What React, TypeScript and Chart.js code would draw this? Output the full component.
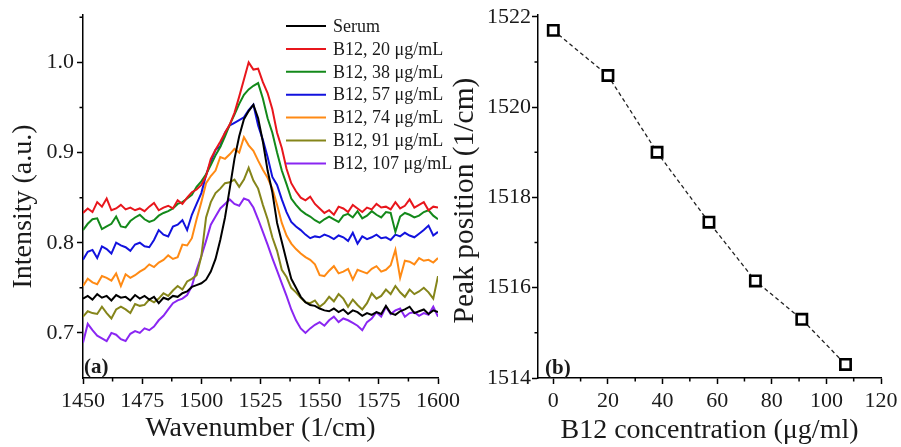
import React, { useEffect, useRef } from "react";
import { Chart, registerables } from "chart.js";

Chart.register(...registerables);

// ---------- Panel (a): spectra ----------
const wavenumbers = [
  1450, 1452, 1454, 1456, 1458, 1460, 1462, 1464, 1466, 1468,
  1470, 1472, 1474, 1476, 1478, 1480, 1482, 1484, 1486, 1488,
  1490, 1492, 1494, 1496, 1498, 1500, 1502, 1504, 1506, 1508,
  1510, 1512, 1514, 1516, 1518, 1520, 1522, 1524, 1526, 1528,
  1530, 1532, 1534, 1536, 1538, 1540, 1542, 1544, 1546, 1548,
  1550, 1552, 1554, 1556, 1558, 1560, 1562, 1564, 1566, 1568,
  1570, 1572, 1574, 1576, 1578, 1580, 1582, 1584, 1586, 1588,
  1590, 1592, 1594, 1596, 1598, 1600,
];

const serum = [
  0.738, 0.741, 0.737, 0.743, 0.739, 0.741, 0.736, 0.742, 0.739, 0.740,
  0.736, 0.742, 0.738, 0.741, 0.737, 0.740, 0.733, 0.739, 0.737, 0.741,
  0.740, 0.744, 0.746, 0.751, 0.753, 0.755, 0.759, 0.768, 0.782, 0.803,
  0.828, 0.860, 0.893, 0.918, 0.937, 0.946, 0.953, 0.938, 0.912, 0.880,
  0.856, 0.822, 0.801, 0.780, 0.760, 0.750, 0.740, 0.734, 0.731, 0.730,
  0.727, 0.725, 0.724, 0.727, 0.723, 0.726, 0.721, 0.725, 0.723, 0.719,
  0.722, 0.720, 0.723, 0.721, 0.730, 0.722, 0.720, 0.724, 0.726, 0.729,
  0.722, 0.724, 0.726, 0.721, 0.725, 0.723,
];

const b12_20 = [
  0.833, 0.838, 0.834, 0.845, 0.840, 0.849, 0.836, 0.838, 0.842, 0.837,
  0.839, 0.836, 0.838, 0.835, 0.840, 0.844, 0.836, 0.839, 0.841, 0.838,
  0.847, 0.843, 0.850, 0.856, 0.859, 0.864, 0.874, 0.893, 0.903, 0.912,
  0.922, 0.931, 0.944, 0.962, 0.981, 1.000, 0.992, 0.993, 0.978, 0.966,
  0.948, 0.922, 0.905, 0.882, 0.866, 0.857, 0.850, 0.847, 0.851, 0.843,
  0.838, 0.833, 0.836, 0.831, 0.840, 0.838, 0.834, 0.842, 0.838, 0.834,
  0.839, 0.837, 0.843, 0.839, 0.840, 0.837, 0.845, 0.838, 0.841, 0.848,
  0.839, 0.842, 0.845, 0.836, 0.840, 0.839,
];

const b12_38 = [
  0.814, 0.821, 0.826, 0.827, 0.815, 0.818, 0.821, 0.829, 0.818, 0.817,
  0.824, 0.828, 0.831, 0.826, 0.823, 0.825, 0.830, 0.833, 0.835, 0.838,
  0.843, 0.845, 0.849, 0.853, 0.862, 0.868, 0.876, 0.886, 0.897, 0.906,
  0.918, 0.931, 0.942, 0.954, 0.964, 0.970, 0.974, 0.977, 0.960, 0.938,
  0.922, 0.900, 0.880, 0.865, 0.849, 0.842, 0.836, 0.832, 0.829, 0.825,
  0.822, 0.826, 0.829, 0.826, 0.823, 0.830, 0.832, 0.828, 0.835, 0.827,
  0.830, 0.835, 0.831, 0.828, 0.834, 0.833, 0.812, 0.829, 0.833, 0.831,
  0.828, 0.830, 0.834, 0.836, 0.830, 0.826,
];

const b12_57 = [
  0.781, 0.790, 0.792, 0.783, 0.796, 0.793, 0.788, 0.800, 0.797, 0.795,
  0.791, 0.798, 0.800, 0.796, 0.795, 0.803, 0.814, 0.809, 0.807, 0.818,
  0.820, 0.825, 0.814, 0.831, 0.843, 0.855, 0.875, 0.890, 0.903, 0.907,
  0.922, 0.930, 0.933, 0.936, 0.939, 0.947, 0.953, 0.930, 0.914, 0.895,
  0.873, 0.864, 0.848, 0.834, 0.823, 0.818, 0.814, 0.809, 0.805, 0.807,
  0.806, 0.809, 0.807, 0.804, 0.808, 0.806, 0.802, 0.811, 0.799, 0.807,
  0.804, 0.806, 0.809, 0.805, 0.806, 0.803, 0.809, 0.807, 0.811, 0.808,
  0.806, 0.810, 0.814, 0.819, 0.808, 0.812,
];

const b12_74 = [
  0.752, 0.760, 0.756, 0.754, 0.763, 0.761, 0.758, 0.766, 0.752, 0.765,
  0.761, 0.764, 0.768, 0.771, 0.776, 0.773, 0.778, 0.781, 0.786, 0.782,
  0.784, 0.798, 0.797, 0.805, 0.826, 0.845, 0.866, 0.874, 0.880, 0.895,
  0.893, 0.898, 0.904, 0.900, 0.917, 0.908, 0.902, 0.891, 0.881, 0.872,
  0.860, 0.842, 0.822, 0.808, 0.799, 0.793, 0.788, 0.784, 0.781, 0.776,
  0.764, 0.763, 0.769, 0.774, 0.766, 0.768, 0.771, 0.759, 0.770, 0.768,
  0.766, 0.771, 0.774, 0.768, 0.770, 0.775, 0.792, 0.761, 0.780, 0.779,
  0.776, 0.783, 0.780, 0.781, 0.778, 0.783,
];

const b12_91 = [
  0.718, 0.724, 0.722, 0.721, 0.729, 0.722, 0.716, 0.726, 0.729, 0.726,
  0.722, 0.732, 0.730, 0.731, 0.737, 0.734, 0.738, 0.744, 0.741, 0.747,
  0.752, 0.748, 0.757, 0.760, 0.764, 0.785, 0.828, 0.845, 0.855, 0.860,
  0.866, 0.867, 0.870, 0.862, 0.870, 0.883, 0.869, 0.860, 0.842, 0.826,
  0.806, 0.791, 0.770, 0.762, 0.750, 0.745, 0.739, 0.734, 0.733, 0.736,
  0.729, 0.733, 0.740, 0.735, 0.743, 0.738, 0.729, 0.737, 0.731, 0.726,
  0.733, 0.744, 0.738, 0.741, 0.748, 0.743, 0.752, 0.745, 0.740, 0.748,
  0.743, 0.746, 0.750, 0.745, 0.738, 0.763,
];

const b12_107 = [
  0.689, 0.710, 0.703, 0.697, 0.694, 0.691, 0.700, 0.698, 0.693, 0.691,
  0.699, 0.702, 0.700, 0.705, 0.703, 0.707, 0.714, 0.719, 0.726, 0.733,
  0.736, 0.738, 0.742, 0.752, 0.770, 0.785, 0.802, 0.820, 0.829, 0.838,
  0.843, 0.848, 0.843, 0.841, 0.849, 0.847, 0.839, 0.826, 0.812, 0.798,
  0.783, 0.769, 0.755, 0.741, 0.726, 0.714, 0.705, 0.700, 0.705, 0.709,
  0.712, 0.708, 0.714, 0.718, 0.712, 0.716, 0.714, 0.711, 0.708, 0.703,
  0.712, 0.716, 0.723, 0.718, 0.729, 0.721, 0.725, 0.727, 0.718, 0.722,
  0.723, 0.719, 0.722, 0.720, 0.729, 0.718,
];

const seriesLabels = [
  "Serum",
  "B12, 20 μg/mL",
  "B12, 38 μg/mL",
  "B12, 57 μg/mL",
  "B12, 74 μg/mL",
  "B12, 91 μg/mL",
  "B12, 107 μg/mL",
];
const seriesValues = [serum, b12_20, b12_38, b12_57, b12_74, b12_91, b12_107];
const seriesColors = ["#000000", "#e8161c", "#13891a", "#1212de", "#ff8a14", "#85851a", "#8a26f2"];

const spectraXTicks = [1450, 1475, 1500, 1525, 1550, 1575, 1600];
const spectraXMinor = [1462.5, 1487.5, 1512.5, 1537.5, 1562.5, 1587.5];
const spectraYTicks = [0.7, 0.8, 0.9, 1.0];
const spectraYMinor = [0.75, 0.85, 0.95, 1.05];
const spectraXTitle = "Wavenumber (1/cm)";
const spectraYTitle = "Intensity (a.u.)";

// ---------- Panel (b): peak position ----------
const concentrations = [0, 20, 38, 57, 74, 91, 107];
const peakPositions = [1521.7, 1520.7, 1519.0, 1517.45, 1516.15, 1515.3, 1514.3];
const peakXTicks = [0, 20, 40, 60, 80, 100, 120];
const peakXMinor = [10, 30, 50, 70, 90, 110];
const peakYTicks = [1514, 1516, 1518, 1520, 1522];
const peakYMinor = [1515, 1517, 1519, 1521];
const peakXTitle = "B12 concentration (μg/ml)";
const peakYTitle = "Peak position (1/cm)";

const FONT = "'Liberation Serif', 'Times New Roman', serif";
const TEXT = "#1a1a1a";

function minorTicks(xVals: number[], yVals: number[], len: number) {
  return {
    id: "minorTicks",
    afterDraw(chart: any) {
      const { ctx, chartArea } = chart;
      const xs = chart.scales.x;
      const ys = chart.scales.y;
      ctx.save();
      ctx.strokeStyle = "#000";
      ctx.lineWidth = 1.5;
      ctx.beginPath();
      xVals.forEach((v) => {
        const px = xs.getPixelForValue(v);
        ctx.moveTo(px, chartArea.bottom);
        ctx.lineTo(px, chartArea.bottom + len);
      });
      yVals.forEach((v) => {
        const py = ys.getPixelForValue(v);
        ctx.moveTo(chartArea.left, py);
        ctx.lineTo(chartArea.left - len, py);
      });
      ctx.stroke();
      ctx.restore();
    },
  };
}

// vertical axis title, centred at a given x and shifted along the axis by dy
function yTitle(text: string, size: number, cx: number, dy: number) {
  return {
    id: "yTitle",
    afterDraw(chart: any) {
      const { ctx, chartArea } = chart;
      ctx.save();
      ctx.font = `${size}px ${FONT}`;
      ctx.fillStyle = TEXT;
      ctx.textAlign = "center";
      ctx.textBaseline = "middle";
      ctx.translate(cx, (chartArea.top + chartArea.bottom) / 2 + dy);
      ctx.rotate(-Math.PI / 2);
      ctx.fillText(text, 0, 0);
      ctx.restore();
    },
  };
}

function panelLabel(text: string, dx: number, dy: number) {
  return {
    id: "panelLabel",
    afterDraw(chart: any) {
      const { ctx, chartArea } = chart;
      ctx.save();
      ctx.font = `bold 21px ${FONT}`;
      ctx.fillStyle = TEXT;
      ctx.textBaseline = "alphabetic";
      ctx.textAlign = "left";
      ctx.fillText(text, chartArea.left + dx, chartArea.bottom - dy);
      ctx.restore();
    },
  };
}

const insideLegend = {
  id: "insideLegend",
  afterDatasetsDraw(chart: any) {
    const ctx = chart.ctx;
    ctx.save();
    ctx.font = `18px ${FONT}`;
    ctx.textBaseline = "middle";
    ctx.textAlign = "left";
    chart.data.datasets.forEach((ds: any, i: number) => {
      const y = 26 + i * 22.9;
      ctx.strokeStyle = ds.borderColor;
      ctx.lineWidth = 2;
      ctx.beginPath();
      ctx.moveTo(286, y);
      ctx.lineTo(326, y);
      ctx.stroke();
      ctx.fillStyle = TEXT;
      ctx.fillText(ds.label, 333, y + 1);
    });
    ctx.restore();
  },
};

function axisCommon(ticks: number[], fmt: (v: number) => string, pad: number) {
  return {
    afterBuildTicks: (s: any) => {
      s.ticks = ticks.map((v) => ({ value: v }));
    },
    ticks: {
      font: { family: FONT, size: 22 },
      color: TEXT,
      padding: pad,
      maxRotation: 0,
      autoSkip: false,
      callback: (v: any) => fmt(Number(v)),
    },
    grid: { display: true, drawOnChartArea: false, drawTicks: true, tickLength: 6, color: "#000", tickWidth: 1.5 },
    border: { display: true, color: "#000", width: 1.5 },
  };
}

export default function App() {
  const refA = useRef<HTMLCanvasElement>(null);
  const refB = useRef<HTMLCanvasElement>(null);

  useEffect(() => {
    const chartA = new Chart(refA.current as HTMLCanvasElement, {
      type: "line",
      data: {
        datasets: seriesLabels.map((label, i) => ({
          label,
          data: wavenumbers.map((x, j) => ({ x, y: seriesValues[i][j] })),
          borderColor: seriesColors[i],
          backgroundColor: seriesColors[i],
          borderWidth: 2,
          pointRadius: 0,
          tension: 0,
          fill: false,
        })),
      },
      options: {
        responsive: false,
        animation: false,
        devicePixelRatio: 1,
        layout: { padding: { top: 15, right: 32, left: 0, bottom: 0 } },
        plugins: { legend: { display: false }, tooltip: { enabled: false } },
        scales: {
          x: {
            type: "linear",
            min: 1450,
            max: 1600,
            ...axisCommon(spectraXTicks, (v) => String(v), 4),
            afterFit: (s: any) => {
              s.height = 69;
              s.paddingLeft = 0;
              s.paddingRight = 0;
            },
            title: {
              display: true,
              text: spectraXTitle,
              font: { family: FONT, size: 28 },
              color: TEXT,
              padding: { top: 0, bottom: 2 },
            },
          },
          y: {
            type: "linear",
            min: 0.65,
            max: 1.0525,
            ...axisCommon(spectraYTicks, (v) => v.toFixed(1), 3),
            afterFit: (s: any) => {
              s.width = 83;
              s.paddingTop = 0;
              s.paddingBottom = 0;
            },
            title: { display: false },
          },
        },
      } as any,
      plugins: [
        minorTicks(spectraXMinor, spectraYMinor, 3.5),
        insideLegend,
        panelLabel("(a)", 1, 5),
        yTitle(spectraYTitle, 28, 24, 10),
      ],
    });

    const chartB = new Chart(refB.current as HTMLCanvasElement, {
      type: "line",
      data: {
        datasets: [
          {
            label: "Peak position",
            data: concentrations.map((x, i) => ({ x, y: peakPositions[i] })),
            borderColor: "#222",
            borderWidth: 1.3,
            borderDash: [4, 3],
            pointStyle: "rect",
            pointRadius: 7.3,
            pointBorderWidth: 2.6,
            pointBorderColor: "#000",
            pointBackgroundColor: "#fff",
            tension: 0,
            fill: false,
          },
        ],
      },
      options: {
        responsive: false,
        animation: false,
        devicePixelRatio: 1,
        layout: { padding: { top: 15, right: 20, left: 0, bottom: 0 } },
        plugins: { legend: { display: false }, tooltip: { enabled: false } },
        scales: {
          x: {
            type: "linear",
            min: -5.6,
            max: 120,
            ...axisCommon(peakXTicks, (v) => String(v), 4),
            afterFit: (s: any) => {
              s.height = 69;
              s.paddingLeft = 0;
              s.paddingRight = 0;
            },
            title: {
              display: true,
              text: peakXTitle,
              font: { family: FONT, size: 28 },
              color: TEXT,
              padding: { top: 0, bottom: 0 },
            },
          },
          y: {
            type: "linear",
            min: 1514,
            max: 1522.04,
            ...axisCommon(peakYTicks, (v) => String(v), 1),
            afterFit: (s: any) => {
              s.width = 88;
              s.paddingTop = 0;
              s.paddingBottom = 0;
            },
            title: { display: false },
          },
        },
      } as any,
      plugins: [minorTicks(peakXMinor, peakYMinor, 3.5), panelLabel("(b)", 7, 4), yTitle(peakYTitle, 29.5, 15.5, 4)],
    });

    return () => {
      chartA.destroy();
      chartB.destroy();
    };
  }, []);

  return (
    <div style={{ position: "absolute", left: 0, top: 0, width: 901, height: 447, background: "#fff", overflow: "hidden" }}>
      <canvas ref={refA} width={470} height={447} style={{ position: "absolute", left: 0, top: 0, width: 470, height: 447 }} />
      <canvas ref={refB} width={451} height={447} style={{ position: "absolute", left: 450, top: 0, width: 451, height: 447 }} />
    </div>
  );
}
